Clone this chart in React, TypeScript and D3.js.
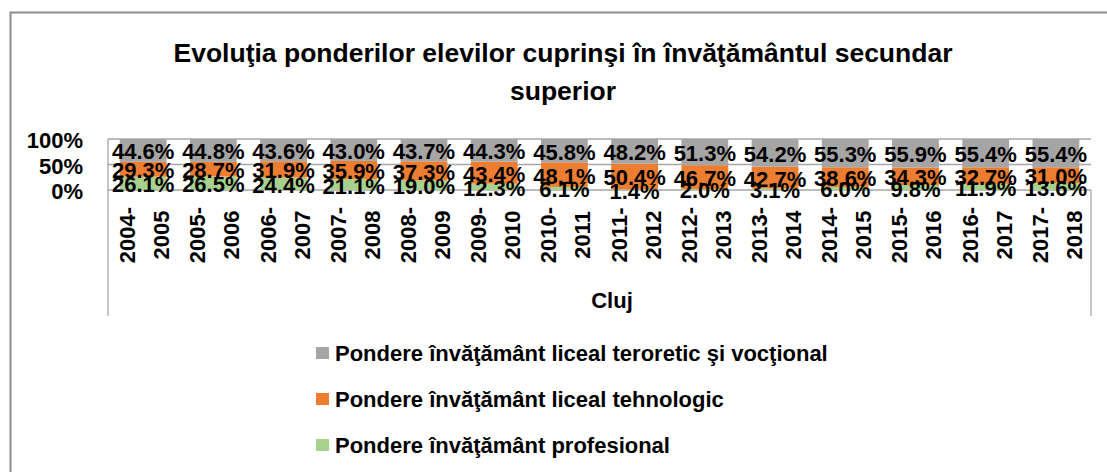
import React from "react";
import * as d3 from "d3";

const categories = [
  ["2004-", "2005"], ["2005-", "2006"], ["2006-", "2007"], ["2007-", "2008"],
  ["2008-", "2009"], ["2009-", "2010"], ["2010-", "2011"], ["2011-", "2012"],
  ["2012-", "2013"], ["2013-", "2014"], ["2014-", "2015"], ["2015-", "2016"],
  ["2016-", "2017"], ["2017-", "2018"],
];
const profesional = [26.1, 26.5, 24.4, 21.1, 19.0, 12.3, 6.1, 1.4, 2.0, 3.1, 6.0, 9.8, 11.9, 13.6];
const tehnologic = [29.3, 28.7, 31.9, 35.9, 37.3, 43.4, 48.1, 50.4, 46.7, 42.7, 38.6, 34.3, 32.7, 31.0];
const teoretic = [44.6, 44.8, 43.6, 43.0, 43.7, 44.3, 45.8, 48.2, 51.3, 54.2, 55.3, 55.9, 55.4, 55.4];
const yTicks = [0, 0.5, 1];
const titleLines = ["Evoluţia ponderilor elevilor cuprinşi în învăţământul secundar", "superior"];
const outerCategory = "Cluj";
const seriesNames = [
  "Pondere învăţământ liceal teroretic şi vocţional",
  "Pondere învăţământ liceal tehnologic",
  "Pondere învăţământ profesional",
];
const colors = ["#A5A5A5", "#ED7D31", "#A9D18E"];

const FONT = "'Liberation Sans Narrow', 'Arial Narrow', 'Liberation Sans', sans-serif";

export default function App() {
  const W = 1107, H = 472;
  const left = 108, right = 1091, top = 139, bottom = 190;
  const keys = categories.map((c) => c.join(" "));
  const x = d3.scaleBand<string>().domain(keys).range([left, right]).paddingInner(1 / 3).paddingOuter(1 / 6);
  const y = d3.scaleLinear().domain([0, 1]).range([bottom, top]);

  const rows = keys.map((k, i) => {
    const t = profesional[i] + tehnologic[i] + teoretic[i];
    return { key: k, prof: profesional[i] / t, teh: tehnologic[i] / t, teo: teoretic[i] / t, i };
  });
  const stack = d3.stack<any>().keys(["prof", "teh", "teo"]);
  const stacked = stack(rows);
  const colorByKey: Record<string, string> = { prof: colors[2], teh: colors[1], teo: colors[0] };
  const valByKey: Record<string, number[]> = { prof: profesional, teh: tehnologic, teo: teoretic };

  const gridColor = "#A6A6A6";
  const fs = 22;

  return (
    <svg width={W} height={H} style={{ position: "absolute", left: 0, top: 0, background: "#fff" }} fontFamily={FONT}>
      <rect x={0} y={0} width={W} height={H} fill="#fff" />
      <rect x={10.5} y={12.5} width={1300} height={700} fill="none" stroke="#8C8C8C" strokeWidth={2} />
      {titleLines.map((t, i) => (
        <text key={i} x={563} y={62 + i * 38} textAnchor="middle" fontSize={26.5} fontWeight="bold" fill="#000">{t}</text>
      ))}
      {yTicks.map((v) => (
        <line key={v} x1={left} x2={right} y1={y(v)} y2={y(v)} stroke={gridColor} strokeWidth={1.3} />
      ))}
      <line x1={left} x2={left} y1={top} y2={316} stroke={gridColor} strokeWidth={1.3} />
      <line x1={right} x2={right} y1={bottom} y2={316} stroke={gridColor} strokeWidth={1.3} />
      {stacked.map((s) => (
        <g key={s.key} fill={colorByKey[s.key]}>
          {s.map((d: any) => (
            <rect key={d.data.key} x={x(d.data.key)} width={x.bandwidth()} y={y(d[1])} height={y(d[0]) - y(d[1])} />
          ))}
        </g>
      ))}
      {stacked.map((s) => (
        <g key={"l" + s.key}>
          {s.map((d: any) => (
            <text key={d.data.key} x={(x(d.data.key) as number) + x.bandwidth() / 2} y={(y(d[0]) + y(d[1])) / 2 + 9}
              textAnchor="middle" fontSize={fs} fontWeight="bold" fill="#000">
              {valByKey[s.key as string][d.data.i].toFixed(1) + "%"}
            </text>
          ))}
        </g>
      ))}
      {yTicks.map((v) => (
        <text key={"t" + v} x={83} y={y(v) + 9} textAnchor="end" fontSize={fs} fontWeight="bold" fill="#000">{d3.format(".0%")(v)}</text>
      ))}
      {categories.map((c, i) => {
        const cx = (x(keys[i]) as number) + x.bandwidth() / 2;
        return (
          <g key={"c" + i} transform={`translate(${cx},235) rotate(-90)`}>
            <text x={0} y={-8} textAnchor="middle" fontSize={fs} fontWeight="bold" fill="#000">{c[0]}</text>
            <text x={0} y={26} textAnchor="middle" fontSize={fs} fontWeight="bold" fill="#000">{c[1]}</text>
          </g>
        );
      })}
      <text x={612} y={308} textAnchor="middle" fontSize={fs} fontWeight="bold" fill="#000">{outerCategory}</text>
      {seriesNames.map((n, i) => (
        <g key={"lg" + i} transform={`translate(316,${353 + i * 46})`}>
          <rect x={0} y={-6} width={13} height={12} fill={colors[i]} />
          <text x={19} y={8} fontSize={fs} fontWeight="bold" fill="#000">{n}</text>
        </g>
      ))}
    </svg>
  );
}
